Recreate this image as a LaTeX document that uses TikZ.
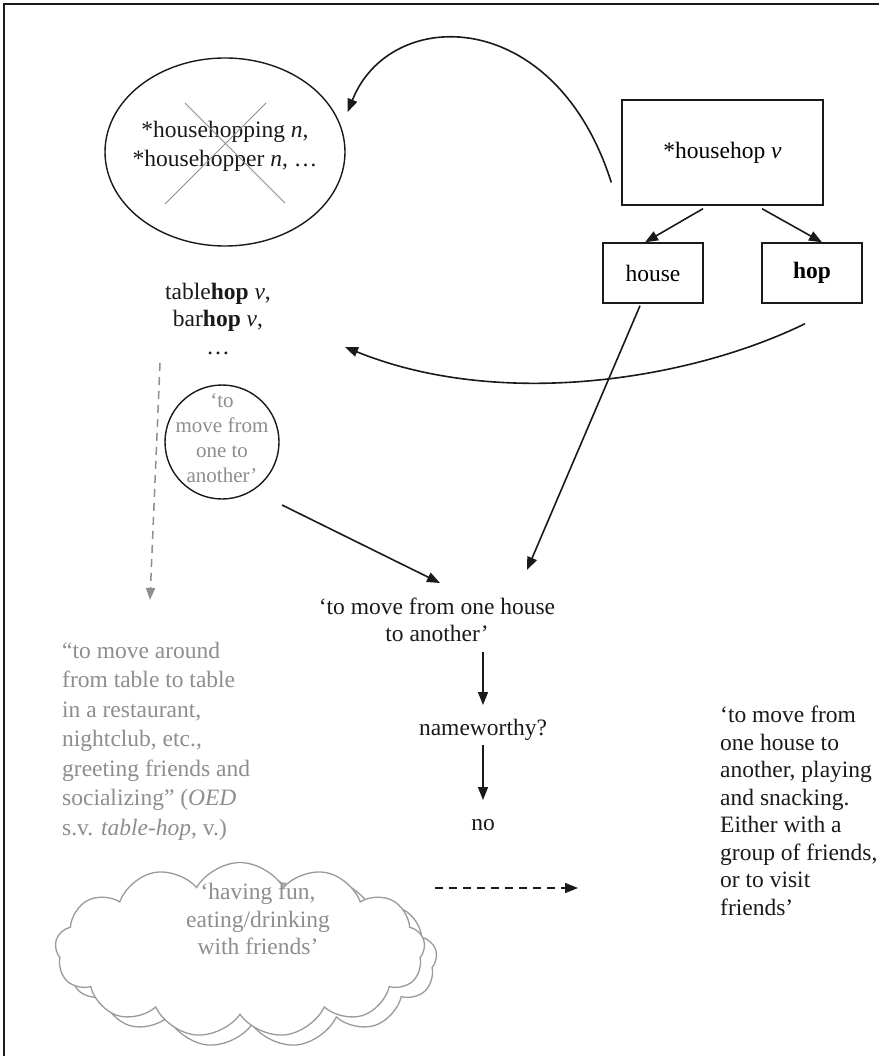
\documentclass[tikz,border=0pt]{standalone}
\usepackage{fontspec}
\setmainfont{Liberation Serif}
\usetikzlibrary{arrows.meta,shapes.symbols,shapes.geometric}
\definecolor{ink}{HTML}{1A1A1A}
\definecolor{soft}{HTML}{8E8E8E}
\definecolor{cloudline}{HTML}{9A9A9A}
\tikzset{
  txt/.style={font=\fontsize{23.5}{27.5}\selectfont, text=ink, align=center, inner sep=0pt},
  greytxt/.style={txt, text=soft},
  boxnode/.style={draw=ink, line width=1.4pt, inner sep=0pt},
  arr/.style={draw=ink, line width=1.6pt, -{Triangle[length=13pt,width=10pt]}},
  greyarr/.style={draw=soft, line width=1.5pt, dash pattern=on 8pt off 6pt, -{Triangle[length=12pt,width=9pt]}},
  dasharr/.style={arr, dash pattern=on 8pt off 6pt},
  puff/.style={cloud, draw=cloudline, line width=1.3pt, cloud puffs=13, cloud puff arc=120, aspect=2},
}
\begin{document}
\begin{tikzpicture}[x=1pt,y=-1pt]
\useasboundingbox (0,0) rectangle (879,1056);
\fill[white] (0,0) rectangle (879,1056);

% outer frame (top and left edges)
\draw[ink, line width=1.5pt] (879,4) -- (4,4) -- (4,1056);

% rejected derivations
\node[ellipse, boxnode, minimum width=240pt, minimum height=188pt] (ell) at (225,152) {};
\node[txt, font=\fontsize{23.5}{29}\selectfont] (elltext) at (225,146)
  {*househopping \textit{n},\\*househopper \textit{n}, …};
\draw[soft, line width=1pt] (165,204) -- (266,103);
\draw[soft, line width=1pt] (185,103) -- (285,203);

% the verb and its parts
\node[boxnode, minimum width=201pt, minimum height=105pt] (hh) at (722.5,152.5)
  {\fontsize{23.5}{27.5}\selectfont *househop \textit{v}};
\node[boxnode, minimum width=100pt, minimum height=60pt] (house) at (653,273)
  {\fontsize{23.5}{27.5}\selectfont house};
\node[boxnode, minimum width=100pt, minimum height=60pt] (hop) at (812,273)
  {\fontsize{23.5}{27.5}\selectfont\textbf{hop}};

\draw[arr] ([xshift=-19.5pt,yshift=-3pt]hh.south) -- ([xshift=-8pt]house.north);
\draw[arr] ([xshift=39.5pt,yshift=-3pt]hh.south) -- ([xshift=10pt]hop.north);

\draw[arr] ([xshift=-10pt,yshift=-30pt]hh.west)
  .. controls (555,5) and (390,5) .. ([xshift=2pt,yshift=40pt]ell.east);

% analogues
\node[txt] (th) at (218,319)
  {table\textbf{hop} \textit{v},\\bar\textbf{hop} \textit{v},\\…};

\draw[arr] ([xshift=-7pt,yshift=-20pt]hop.south)
  .. controls (690,380) and (500,410) .. ([xshift=127pt,yshift=-28pt]th.center);

% generalised meaning
\node[circle, boxnode, minimum size=114pt] (cir) at (222,442) {};
\node[greytxt, font=\fontsize{21}{25}\selectfont] (cirtext) at (222,438)
  {‘to\\move from\\one to\\another’};

% resulting meaning
\node[txt] (tg) at (437,620) {‘to move from one house\\to another’};

\draw[arr] ([xshift=-13pt,yshift=-2pt]house.south) -- ([xshift=90pt,yshift=50pt]tg.center);
\draw[arr] ([xshift=60pt,yshift=-63pt]cir.center) -- ([xshift=3pt,yshift=37pt]tg.center);

% dictionary definition
\node[greytxt, align=left, anchor=west, font=\fontsize{23.5}{29.5}\selectfont] (oed) at (62,741)
  {“to move around\\from table to table\\in a restaurant,\\nightclub, etc.,\\greeting friends and\\socializing” (\textit{OED}\\s.v. \textit{table-hop}, v.)};
\draw[greyarr] ([xshift=-58pt,yshift=-44pt]th.center) -- ([xshift=88pt,yshift=141pt]oed.west);

% nameworthiness
\node[txt] (nw) at (483,730) {nameworthy?};
\node[txt] (no) at (483,825) {no};
\draw[arr] ([xshift=46pt,yshift=-32pt]tg.center) -- ([yshift=25pt]nw.center);
\draw[arr] ([yshift=-15pt]nw.center) -- ([yshift=25pt]no.center);

% final meaning
\node[txt, align=left, anchor=west] (rt) at (720,811)
  {‘to move from\\one house to\\another, playing\\and snacking.\\Either with a\\group of friends,\\or to visit\\friends’};

% connotations: two overlapping cloud outlines
\node[puff, minimum width=370pt, minimum height=175pt] (cl2) at (252,960) {};
\node[puff, fill=white, minimum width=370pt, minimum height=175pt] (cl) at (240,950) {};
\node[greytxt] (ct) at (258,919) {‘having fun,\\eating/drinking\\with friends’};

\draw[dasharr] ([xshift=177pt,yshift=31pt]ct.center) -- ([xshift=-142pt,yshift=-77pt]rt.west);
\end{tikzpicture}
\end{document}
